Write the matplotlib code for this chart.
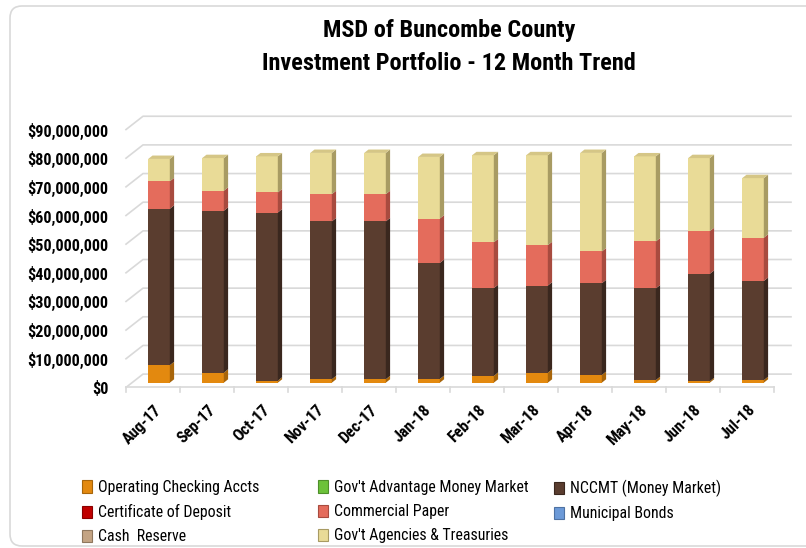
import matplotlib
matplotlib.use("Agg")
import matplotlib.pyplot as plt
from matplotlib.patches import Polygon, Patch, FancyBboxPatch
from matplotlib.lines import Line2D
from matplotlib.transforms import IdentityTransform, ScaledTranslation
import numpy as np

NARROW = ['Liberation Sans Narrow', 'Roboto Condensed', 'DejaVu Sans']
plt.rcParams['font.family'] = NARROW

# months on the x axis
months = ['Aug-17', 'Sep-17', 'Oct-17', 'Nov-17', 'Dec-17', 'Jan-18',
          'Feb-18', 'Mar-18', 'Apr-18', 'May-18', 'Jun-18', 'Jul-18']

# balances in $ (millions)
operating = [6.1, 3.5, 0.7, 1.2, 1.2, 1.3, 2.4, 3.5, 2.7, 0.9, 0.5, 0.9]
govt_adv_mm = [0] * 12
nccmt = [54.6, 56.5, 58.7, 55.1, 55.1, 40.5, 30.6, 30.4, 32.0, 32.0, 37.5, 34.6]
cert_deposit = [0] * 12
comm_paper = [9.6, 7.0, 7.0, 9.5, 9.5, 15.5, 16.0, 14.1, 11.1, 16.4, 14.9, 15.1]
muni_bonds = [0] * 12
cash_reserve = [0] * 12
govt_agencies = [7.8, 11.4, 12.6, 14.4, 14.4, 21.5, 30.4, 31.4, 34.4, 29.7, 25.5, 20.8]

series_names = ['Operating Checking Accts', "Gov't Advantage Money Market",
                'NCCMT (Money Market)', 'Certificate of Deposit', 'Commercial Paper',
                'Municipal Bonds', 'Cash  Reserve', "Gov't Agencies & Treasuries"]
series_vals = [operating, govt_adv_mm, nccmt, cert_deposit, comm_paper,
               muni_bonds, cash_reserve, govt_agencies]
# front, side, top colours for each series
front_cols = ['#E3890F', '#6CC23A', '#5A3D2F', '#C00000', '#E46C5C', '#6C9AD8', '#C4A484', '#E9DB97']
side_cols = ['#A8650A', '#4E8F2A', '#3A271E', '#8A0000', '#A84B3F', '#4E72A3', '#8F775E', '#A89B63']
top_cols = ['#F0A030', '#86D055', '#6E4E3E', '#D83030', '#EE8878', '#8AB2E6', '#D4B89A', '#D5C686']

fig = plt.figure(figsize=(8.06, 5.48), dpi=100)
W, H = 806, 548
# axes = plane of the bar fronts
ax = fig.add_axes([132 / W, (H - 382.7) / H, 648 / W, 257.85 / H])
ax.set_xlim(-0.5, 11.5)
ax.set_ylim(0, 90e6)
for s in ax.spines.values():
    s.set_visible(False)

# depth vectors in pixels (bar plane -> back wall / front edge)
back = np.array([11.0, 8.6])
front = np.array([-6.0, -4.7])
bdep = np.array([4.3, 3.4])  # depth of a bar

ident = IdentityTransform()
grid_col = '#D9D9D9'

def disp(x, y):
    return ax.transData.transform((x, y))

# back wall gridlines and left wall diagonals
for v in np.arange(0, 90e6 + 1, 10e6):
    p0 = disp(-0.5, v) + back
    p1 = disp(11.5, v) + back
    pf = disp(-0.5, v) + front
    ax.add_line(Line2D([pf[0], p0[0], p1[0]], [pf[1], p0[1], p1[1]], color=grid_col,
                       lw=1.2, transform=ident, clip_on=False, zorder=0))
# floor front edge and tick marks
f0 = disp(-0.5, 0) + front
f1 = disp(11.5, 0) + front
ax.add_line(Line2D([f0[0], f1[0]], [f0[1], f1[1]], color=grid_col, lw=1.2,
                   transform=ident, clip_on=False, zorder=0))
for b in np.arange(-0.5, 12, 1):
    t = disp(b, 0) + front
    ax.add_line(Line2D([t[0], t[0]], [t[1], t[1] - 5], color=grid_col, lw=1.2,
                       transform=ident, clip_on=False, zorder=0))

# stacked bars with side and top faces
x = np.arange(len(months))
bw = 0.4
vals = np.array(series_vals) * 1e6
bottom = np.zeros(len(months))
for k in range(len(series_vals)):
    ax.bar(x, vals[k], bw, bottom=bottom, color=front_cols[k], zorder=2, clip_on=False)
    for i in range(len(months)):
        if vals[k][i] <= 0:
            continue
        b, t = bottom[i], bottom[i] + vals[k][i]
        a = disp(x[i] + bw / 2, b)
        c = disp(x[i] + bw / 2, t)
        ax.add_patch(Polygon([a, c, c + bdep, a + bdep], closed=True, fc=side_cols[k],
                             ec='none', transform=ident, clip_on=False, zorder=2))
    bottom = bottom + vals[k]

# top face on each stack
for i in range(len(months)):
    top_k = max(k for k in range(len(series_vals)) if vals[k][i] > 0)
    l = disp(x[i] - bw / 2, bottom[i])
    r = disp(x[i] + bw / 2, bottom[i])
    ax.add_patch(Polygon([l, r, r + bdep, l + bdep], closed=True, fc=top_cols[top_k],
                         ec='none', transform=ident, clip_on=False, zorder=3))

# axis labels
ax.set_yticks(np.arange(0, 90e6 + 1, 10e6))
ax.set_yticklabels(['${:,.0f}'.format(v) for v in np.arange(0, 90e6 + 1, 10e6)],
                   fontsize=11.6, fontweight='bold')
ax.tick_params(axis='y', length=0, pad=17)
for lbl in ax.get_yticklabels():
    lbl.set_transform(lbl.get_transform() + ScaledTranslation(0, -4.7 / 100, fig.dpi_scale_trans))
ax.set_xticks(x)
ax.set_xticklabels(months, fontsize=11.6, fontweight='bold', rotation=45,
                   ha='right', va='center', rotation_mode='anchor')
ax.tick_params(axis='x', length=0, pad=18)

# title
fig.text(449 / W, 1 - 30 / H, 'MSD of Buncombe County', ha='center', va='center',
         fontsize=17.5, fontweight='bold')
fig.text(449 / W, 1 - 63 / H, 'Investment Portfolio - 12 Month Trend', ha='center',
         va='center', fontsize=17.5, fontweight='bold')

# legend in three columns
handles = [Patch(fc=front_cols[k], ec=side_cols[k], lw=0.8) for k in range(len(series_names))]
cols = [[0, 3, 6], [1, 4, 7], [2, 5]]
col_x = [82, 318, 554]
for ci, idx in enumerate(cols):
    lg = fig.legend([handles[k] for k in idx], [series_names[k] for k in idx],
                    loc='upper left', bbox_to_anchor=(col_x[ci] / W, 1 - 480 / H),
                    frameon=False, fontsize=11.4, handlelength=0.6, handleheight=0.8,
                    handletextpad=0.4, labelspacing=0.58, borderaxespad=0, borderpad=0)

# outer frame
fig.patches.append(FancyBboxPatch((10, 2), 830, 540, boxstyle='round,pad=0,rounding_size=12',
                                  transform=ident, fc='none', ec='#D9D9D9', lw=1.2))

fig.savefig('out.png', dpi=100)
